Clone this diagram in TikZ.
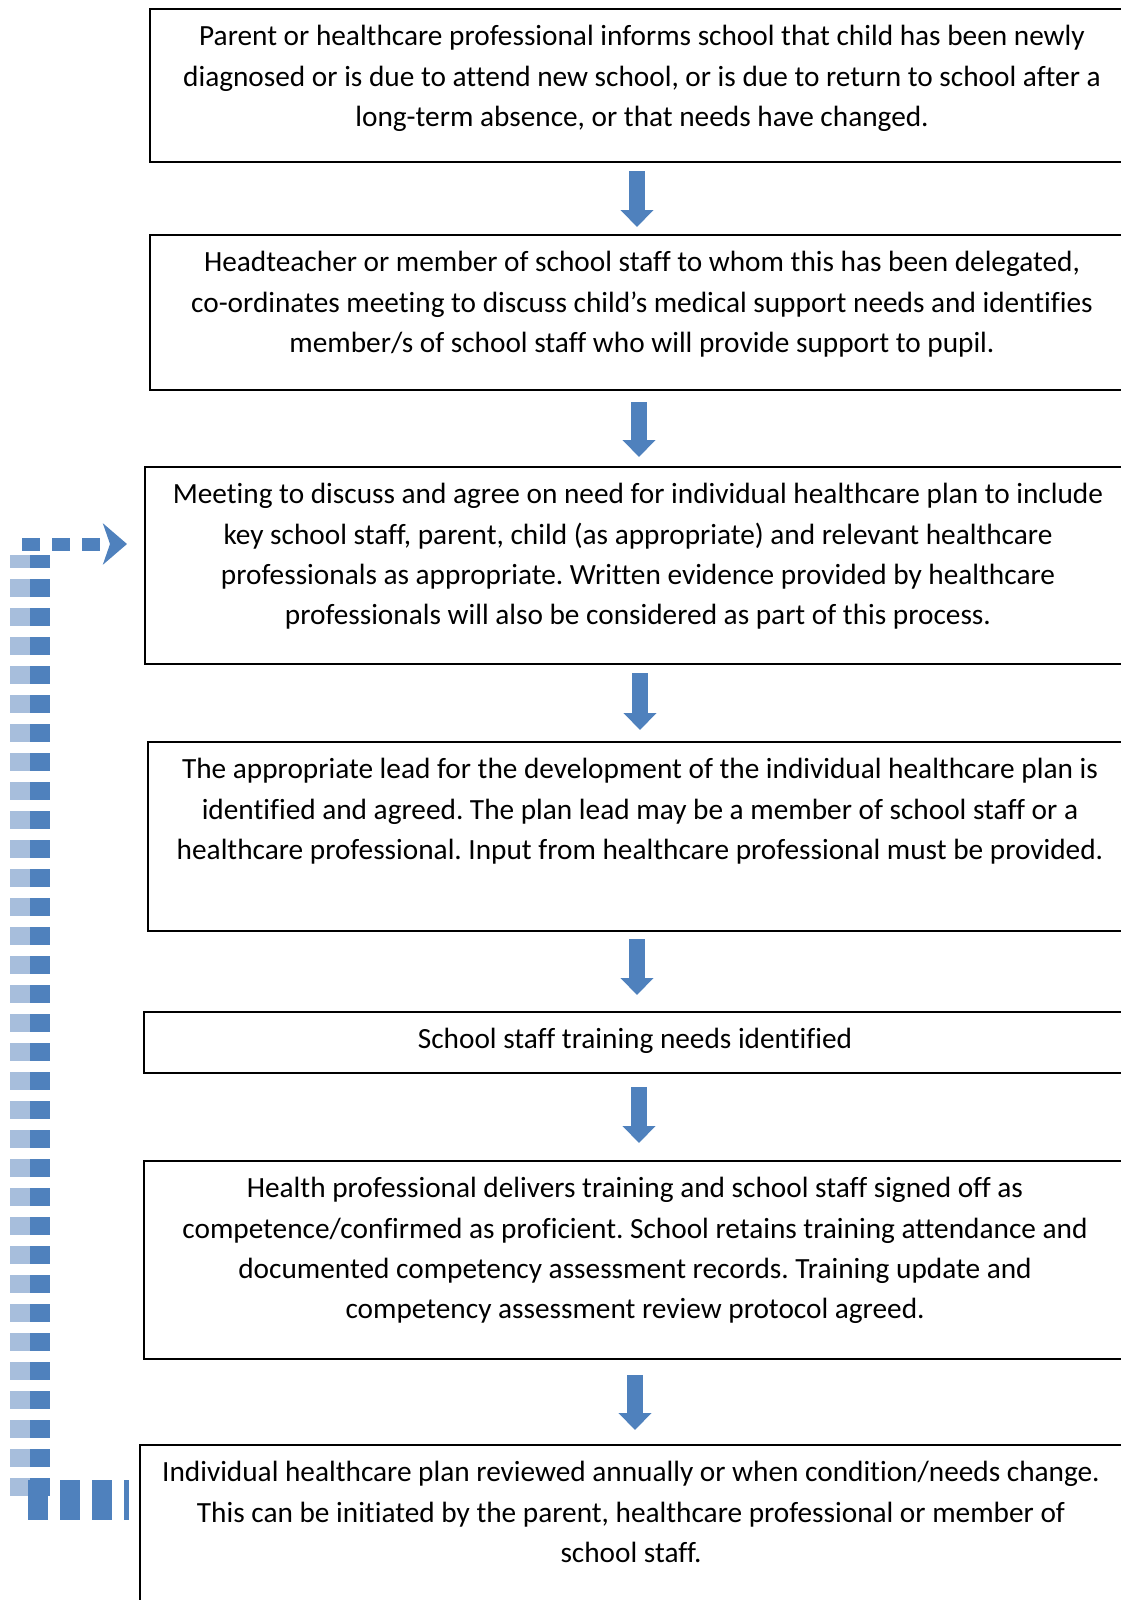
\documentclass[tikz,border=0pt]{standalone}
\usepackage{fontspec}
\setmainfont{Carlito}[Ligatures=NoCommon]
\usepackage{tikz}
\usetikzlibrary{arrows.meta}

\definecolor{flowblue}{RGB}{79,129,189}
\definecolor{paleblue}{RGB}{167,190,220}

% text of a step, set from the top of its box
\newcommand{\steptext}[2]{\parbox[c][#1][t]{960pt}{\centering\frenchspacing\vspace*{8.5pt}\strut #2}}

\begin{document}
\begin{tikzpicture}[
            x = 1pt, y = -1pt, % one unit per pixel, y downwards
            > = {Triangle[width=32pt,length=17pt]}, % block arrow head
            stepbox/.style = {draw=black, line width=2pt, anchor=north west, inner sep=0pt,
                              font=\fontsize{29.3pt}{40.3pt}\selectfont},
            flow/.style = {->, draw=flowblue, fill=flowblue, line width=16pt},
            loopline/.style = {draw=flowblue, line width=13pt, dash pattern=on 18pt off 12pt,
                               -{Stealth[length=24pt,width=41pt,inset=7pt]}},
            loopside/.style = {line width=20pt, dash pattern=on 18pt off 11pt, dash phase=5pt},
            loopfoot/.style = {draw=flowblue, line width=40pt, dash pattern=on 20pt off 12pt}
        ]

\useasboundingbox (0,0) rectangle (1121,1600);
\clip (0,0) rectangle (1121,1600);

\node[stepbox, minimum width=984pt, minimum height=153pt] (inform) at (149,8)
  {\steptext{153pt}{Parent or healthcare professional informs school that child has been newly\\
   diagnosed or is due to attend new school, or is due to return to school after a\\
   long-term absence, or that needs have changed.}};
\node[stepbox, minimum width=984pt, minimum height=155pt] (coord) at (149,234)
  {\steptext{155pt}{Headteacher or member of school staff to whom this has been delegated,\\
   co-ordinates meeting to discuss child’s medical support needs and identifies\\
   member/s of school staff who will provide support to pupil.}};
\node[stepbox, minimum width=986pt, minimum height=197pt] (meeting) at (144,466)
  {\steptext{197pt}{Meeting to discuss and agree on need for individual healthcare plan to include\\
   key school staff, parent, child (as appropriate) and relevant healthcare\\
   professionals as appropriate. Written evidence provided by healthcare\\
   professionals will also be considered as part of this process.}};
\node[stepbox, minimum width=984pt, minimum height=189pt] (lead) at (147,741)
  {\steptext{189pt}{The appropriate lead for the development of the individual healthcare plan is\\
   identified and agreed. The plan lead may be a member of school staff or a\\
   healthcare professional. Input from healthcare professional must be provided.}};
\node[stepbox, minimum width=982pt, minimum height=61pt] (needs) at (143,1011)
  {\steptext{61pt}{School staff training needs identified}};
\node[stepbox, minimum width=982pt, minimum height=198pt] (training) at (143,1160)
  {\steptext{198pt}{Health professional delivers training and school staff signed off as\\
   competence/confirmed as proficient. School retains training attendance and\\
   documented competency assessment records. Training update and\\
   competency assessment review protocol agreed.}};
\node[stepbox, minimum width=982pt, minimum height=200pt] (review) at (139,1444)
  {\steptext{200pt}{Individual healthcare plan reviewed annually or when condition/needs change.\\
   This can be initiated by the parent, healthcare professional or member of\\
   school staff.}};

% down arrows
\coordinate (a1) at ([xshift=-5pt]inform.south);
\coordinate (a2) at ([xshift=-3pt]coord.south);
\coordinate (a3) at ([xshift=2pt]meeting.south);
\coordinate (a4) at ([xshift=-3pt]lead.south);
\coordinate (a5) at ([xshift=4pt]needs.south);
\coordinate (a6) at ([xshift=0pt]training.south);

\draw[flow, shorten <=8pt, shorten >=7pt] (a1) -- (a1 |- coord.north);
\draw[flow, shorten <=11pt, shorten >=9pt] (a2) -- (a2 |- meeting.north);
\draw[flow, shorten <=8pt, shorten >=11pt] (a3) -- (a3 |- lead.north);
\draw[flow, shorten <=7pt, shorten >=16pt] (a4) -- (a4 |- needs.north);
\draw[flow, shorten <=13pt, shorten >=17pt] (a5) -- (a5 |- training.north);
\draw[flow, shorten <=15pt, shorten >=14pt] (a6) -- (a6 |- review.north);

% review loop back to the meeting
\coordinate (loop top) at (22,544);
\coordinate (loop up) at (30,555);
\coordinate (loop down) at (30,1496);
\coordinate (loop foot) at (28,1500);

\draw[loopside, draw=paleblue] ([xshift=-10pt]loop up) -- ([xshift=-10pt]loop down);
\draw[loopside, draw=flowblue] ([xshift=10pt]loop up) -- ([xshift=10pt]loop down);
\draw[loopfoot, shorten >=10pt] (loop foot) -- (loop foot -| review.west);
\draw[loopline, shorten >=17pt] (loop top) -- (loop top -| meeting.west);
\end{tikzpicture}
\end{document}
